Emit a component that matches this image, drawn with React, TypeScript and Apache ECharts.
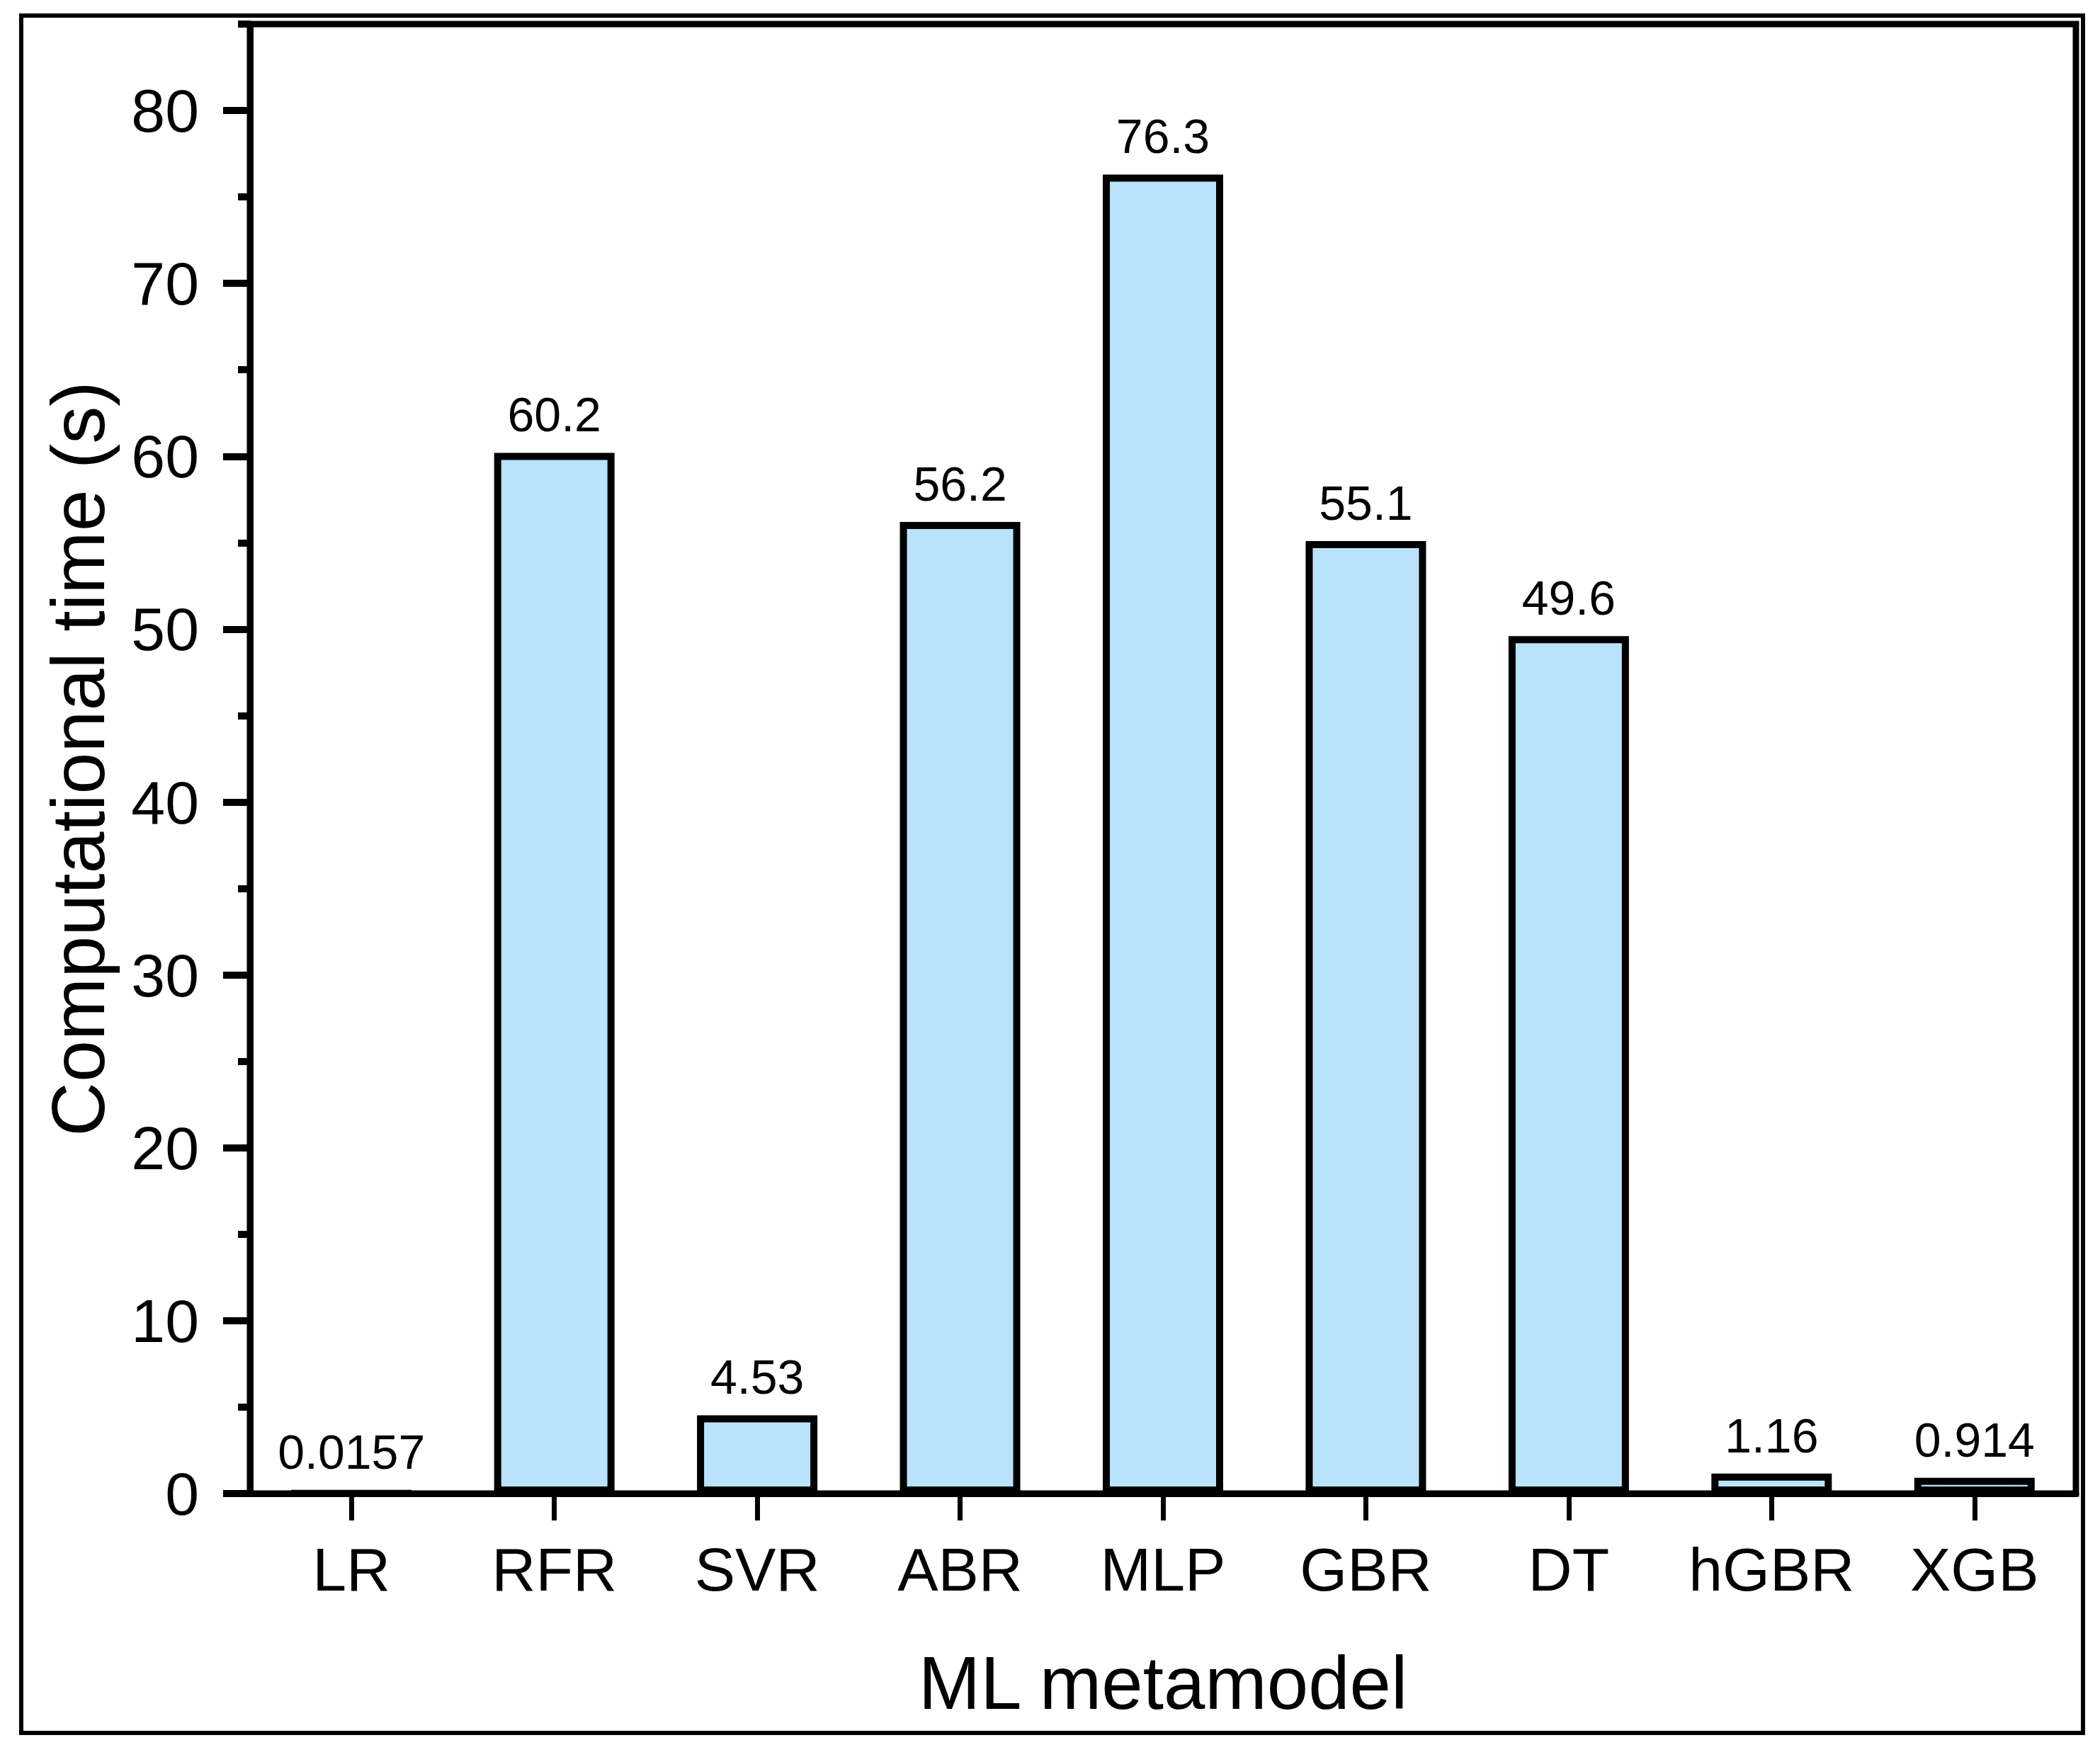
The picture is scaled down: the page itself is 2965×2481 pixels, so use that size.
import React, { useEffect, useRef } from "react";
import * as echarts from "echarts";

const categories = ["LR", "RFR", "SVR", "ABR", "MLP", "GBR", "DT", "hGBR", "XGB"];
const times = [0.0157, 60.2, 4.53, 56.2, 76.3, 55.1, 49.6, 1.16, 0.914];
const majorTicks = [0, 10, 20, 30, 40, 50, 60, 70, 80];
const minorTicks = [5, 15, 25, 35, 45, 55, 65, 75, 85];

const FONT = "'Liberation Sans', Arial, sans-serif";

export default function App() {
  const ref = useRef<HTMLDivElement>(null);
  useEffect(() => {
    if (!ref.current) return;
    const chart = echarts.init(ref.current, undefined, { renderer: "svg" });
    chart.setOption({
      animation: false,
      backgroundColor: "#ffffff",
      grid: {
        left: 353,
        top: 34,
        right: 34,
        bottom: 372,
        show: true,
        borderColor: "#000",
        borderWidth: 9,
        containLabel: false,
        outerBoundsMode: "none",
      },
      xAxis: {
        type: "category",
        data: categories,
        boundaryGap: true,
        name: "ML metamodel",
        nameLocation: "middle",
        nameGap: 215,
        nameTextStyle: { fontFamily: FONT, fontSize: 105, color: "#000" },
        axisLine: { show: true, lineStyle: { color: "#000", width: 9 } },
        axisTick: { show: true, interval: 0, alignWithLabel: true, inside: false, length: 38, lineStyle: { color: "#000", width: 7 } },
        axisLabel: { interval: 0, fontFamily: FONT, fontSize: 86, color: "#000", margin: 64 },
        splitLine: { show: false },
      },
      yAxis: [
        {
          type: "value",
          min: 0,
          max: 85,
          interval: 10,
          name: "Computational time (s)",
          nameLocation: "middle",
          nameGap: 190,
          nameTextStyle: { fontFamily: FONT, fontSize: 106, color: "#000" },
          axisLine: { show: true, lineStyle: { color: "#000", width: 9 } },
          axisTick: { show: true, inside: false, length: 38, lineStyle: { color: "#000", width: 10 }, customValues: majorTicks },
          axisLabel: { fontFamily: FONT, fontSize: 86, color: "#000", margin: 72, customValues: majorTicks },
          splitLine: { show: false },
        },
        {
          type: "value",
          min: 0,
          max: 85,
          interval: 5,
          position: "left",
          axisLine: { show: false },
          axisTick: { show: true, inside: false, length: 17, lineStyle: { color: "#000", width: 10 }, customValues: minorTicks },
          axisLabel: { show: false },
          splitLine: { show: false },
        },
      ],
      series: [
        {
          type: "bar",
          data: times,
          yAxisIndex: 0,
          barWidth: 170,
          itemStyle: { color: "#B8E3FB", borderColor: "#000", borderWidth: 10 },
          label: {
            show: true,
            position: "top",
            distance: 20,
            fontFamily: FONT,
            fontSize: 68,
            color: "#000",
          },
        },
      ],
      graphic: [
        {
          type: "rect",
          shape: { x: 30, y: 22, width: 2911, height: 2425 },
          style: { fill: "none", stroke: "#000", lineWidth: 6 },
          z: 100,
        },
      ],
    });
    return () => chart.dispose();
  }, []);
  return (
    <div
      ref={ref}
      style={{ position: "absolute", left: 0, top: 0, width: 2965, height: 2481, background: "#fff" }}
    />
  );
}
